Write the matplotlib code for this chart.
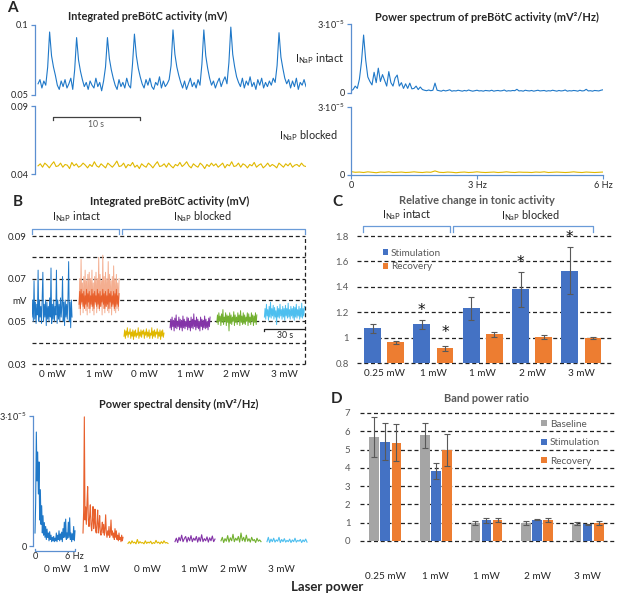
import numpy as np
import matplotlib
matplotlib.use('Agg')
import matplotlib.pyplot as plt
from matplotlib.lines import Line2D

plt.rcParams['font.family'] = ['Lato', 'DejaVu Sans']
plt.rcParams['mathtext.fontset'] = 'custom'
plt.rcParams['mathtext.rm'] = 'Lato'
plt.rcParams['mathtext.it'] = 'Lato:italic'
plt.rcParams['mathtext.bf'] = 'Lato:bold'

# ---------------- DATA ----------------
# Panel A: integrated preBotC activity (x1e-3 mV), ~30.8 s
a_trace_intact = [58,61,55,60,57, 70,95,78,70,64, 57,54,60,56,61,55,58,62,54,
    68,91,75,67,61, 56,59,54,60,57,55,62,56,59,53,60, 70,91,76,68,62,
    57,54,61,56,59,55,62,57,55, 72,93.5,78,69,63,
    58,55,61,57,62,56,54,59,57,63,55,60,56,58,61, 71,96.5,79,70,64,
    59,55,60,54,58,62,56,59,55,61,57, 72,96.5,78,69,62,
    57,60,55,59,62,56,60,63,58, 73,98.5,79,70,63,
    59,56,62,55,60,57,63,56,59,54,61,57,62,55,59,56,60,57,62,59,
    71,94.5,77,69,62, 58,61,55,60,56,62,54,59,57,61,56]
a_trace_blocked = [46,47.5,45,48,46.5,44.5,47,49,45.5,46,48,45,47,46.5,44,48.5,46,47.5,45,46,
    48,46.5,44.5,47,45.5,49,46,45,47.5,46,44.5,48,46.5,45,47,49.5,45.5,46,48,44.5,
    47,46,48.5,45,46.5,44,47.5,46,45,48,46.5,44.5,47,49,45.5,46,47.5,45,48,46,
    44.5,47,46,48.5,45.5,47,49,46,44.5,47.5,46,45,48,46.5,44,47,45.5,48,46,47.5,
    45,46.5,48,44.5,47,46,49,45.5,46,48,45,47.5,46.5,44.5,47,46,48.5,45,46.5,47.5,
    44.5,46,48,45.5,47,46,44.5,48,46.5,45,47.5,46,48,45,46.5,47,45.5,48,46,45.5]
a_duration_s = 30.8

# Panel A: power spectra (x1e-5 mV^2/Hz), 0-6 Hz
a_psd_intact = [0.10,0.15,0.30,0.20,0.60,1.36,2.52,1.43,0.70,0.50,
    0.35,0.90,0.45,1.08,0.50,0.80,0.55,0.30,0.93,0.45,
    0.30,0.65,0.78,0.30,0.45,0.20,0.40,0.20,0.43,0.18,
    0.20,0.30,0.15,0.26,0.15,0.12,0.10,0.13,0.10,0.12,
    0.43,0.12,
    0.10,0.08,0.12,0.09,0.11,0.14,0.08,0.10,0.09,0.12,
    0.10,0.08,0.11,0.09,0.13,0.10,0.08,0.10,0.12,0.09,
    0.10,0.08,0.11,0.10,0.09,0.12,0.08,0.10,0.11,0.09,
    0.10,0.13,0.08,0.10,0.09,0.11,0.10,0.16,0.09,0.10,
    0.08,0.12,0.10,0.09,0.11,0.08,0.10,0.12,0.09,0.10,
    0.11,0.08,0.10,0.09,0.12,0.10,0.08,0.11,0.09,0.10,
    0.13,0.08,0.10,0.09,0.11,0.10,0.08,0.12,0.09,0.10,
    0.16,0.09,0.10,0.08,0.11,0.10,0.09,0.12,0.14]
a_psd_blocked = [0.15,0.12,0.13,0.11,0.14,0.12,0.10,0.13,0.12,0.14,
    0.11,0.12,0.13,0.11,0.12,0.14,0.12,0.11,0.13,0.12,
    0.18,0.12,0.11,0.13,0.12,0.10,0.12,0.13,0.11,0.12,
    0.14,0.12,0.11,0.12,0.13,0.11,0.12,0.14,0.12,0.11,
    0.13,0.12,0.12,0.11,0.13,0.12,0.14,0.11,0.12,0.13,
    0.12,0.11,0.12,0.14,0.12,0.11,0.13,0.12,0.11,0.12,0.13]
a_max_hz = 6

# Panel B: integrated activity per condition (x1e-3 mV), 28.6 s each
b_labels = ['0 mW', '1 mW', '0 mW', '1 mW', '2 mW', '3 mW']
b_seg_s = 28.6
b_tr_0mw_intact = [52,60,50,69,51,59,49,58,53,74,50,60,52,57,49,61,73,50,58,52,
    60,48,59,51,57,50,61,52,75,49,58,51,60,50,57,53,74,49,60,51,
    58,50,61,52,57,71,50,59,48,60,52,58,51,61,78,50,59,47,60,52]
b_tr_1mw_intact_raw = [56,70,53,79,58,68,54,71,57,74,55,69,53,72,56,73,54,70,57,74,
    55,68,53,71,58,73,54,70,56,80,55,72,57,69,53,81,56,71,54,73,
    57,70,55,78,54,72,56,69,53,71,57,76,55,70,54,72,56,68,55,70]
b_tr_1mw_intact = [58,64,56,65,59,63,57,64,56,62,58,65,57,63,59,64,56,62,58,65,
    57,63,56,64,59,62,57,65,58,63,56,64,57,62,59,65,58,63,56,64,
    57,62,58,65,56,63,59,64,57,62,58,64,56,63,57,65,58,62,57,63]
b_tr_0mw_blocked = [43,46,42,45.5,43.5,47,42.5,45,44,46.5,42,45,43,46,41.5,45.5,43,46,42.5,44.5,
    43.5,47,42,45,43,46,42.5,45.5,44,46,42,45,43.5,46.5,42.5,45,43,46,42,44.5,
    43.5,47,42,45.5,43,46,42.5,45,44,46.5,42,45,43,46,41.5,45.5,43,46,42.5,44.5]
b_tr_1mw_blocked = [47,51,46,52,47.5,50.5,45.5,51.5,47,53,46.5,50,47.5,52,46,51,47,50.5,45.5,52.5,
    47,51,46.5,50,47.5,52,46,51.5,47,50,45.5,52,47,51,46.5,53.5,47.5,50.5,46,52,
    47,51,46.5,50,45.5,52,47.5,51,46,50.5,47,52.5,46.5,51,47,50,46,51.5,47.5,52]
b_tr_2mw_blocked = [49.5,53,48.5,54,50,52.5,48,53.5,49.5,55.5,48.5,52,50,54,48,53,49.5,52.5,45.5,54,
    49,53,48.5,52,50,54.5,48,53,49.5,52,48.5,54,50,53,48,55,49.5,52.5,48.5,54,
    49,53,48.5,52,50,54,48,53.5,49.5,52,48.5,54,50,53,48,52.5,49.5,54,48.5,53]
b_tr_3mw_blocked = [52,56,51,58,52.5,55.5,50.5,57,52,59,51.5,56,52.5,57.5,51,56.5,52,55,48.5,57,
    52,56,51.5,58,52.5,55.5,51,57,52,56,50.5,57.5,52.5,56,51.5,58.5,52,55.5,51,57,
    52.5,56,51.5,57,50.5,56.5,52,58,51.5,55.5,52.5,57,51,56,52,58.5,51.5,56,52.5,57]

# Panel B: power spectral density per condition (x1e-5), 0-6 Hz
b_psd_0mw_intact = [0.3,1.0,2.63,1.5,2.17,1.2,1.94,0.6,1.3,0.5,0.93,0.3,0.7,0.25,0.54,0.2,0.45,0.15,0.39,0.2,
    0.3,0.12,0.33,0.15,0.25,0.1,0.2,0.12,0.22,0.1,0.18,0.12,0.3,0.1,0.25,0.15,0.35,0.12,0.28,0.15,
    0.32,0.1,0.4,0.2,0.55,0.2,0.62,0.15,0.3,0.18,0.55,0.2,0.65,0.15,0.3,0.1,0.28,0.15,0.45,0.12,0.35]
b_psd_1mw_intact = [0.3,0.8,2.98,0.6,0.9,0.5,1.0,1.37,0.6,0.45,0.7,0.95,0.5,0.35,0.6,0.91,0.4,0.55,0.85,0.35,
    0.3,0.55,0.83,0.3,0.45,0.7,0.3,0.25,0.4,0.55,0.3,0.5,0.25,0.4,0.72,0.3,0.2,0.35,0.25,0.45,
    0.2,0.3,0.6,0.25,0.35,0.2,0.3,0.15,0.4,0.2,0.35,0.15,0.25,0.12,0.3,0.15,0.2,0.1,0.25,0.12,0.2]
b_psd_0mw_blocked = [0.06,0.1,0.05,0.12,0.07,0.09,0.05,0.15,0.06,0.1,0.07,0.08,0.05,0.12,0.06,0.09,
    0.07,0.11,0.05,0.08,0.06,0.13,0.07,0.09,0.05,0.1,0.06,0.12,0.07,0.08,0.06]
b_psd_1mw_blocked = [0.1,0.18,0.08,0.2,0.12,0.25,0.1,0.17,0.22,0.09,0.2,0.12,0.24,0.1,0.18,0.13,
    0.22,0.09,0.2,0.11,0.26,0.1,0.17,0.12,0.21,0.09,0.19,0.12,0.23,0.1,0.16]
b_psd_2mw_blocked = [0.12,0.2,0.08,0.17,0.11,0.24,0.09,0.19,0.12,0.27,0.1,0.18,0.13,0.22,0.09,0.3,
    0.12,0.2,0.1,0.25,0.11,0.17,0.09,0.2,0.12,0.15,0.08,0.18,0.11,0.14,0.1]
b_psd_3mw_blocked = [0.1,0.2,0.08,0.16,0.1,0.18,0.09,0.14,0.11,0.2,0.08,0.15,0.1,0.17,0.09,0.13,
    0.1,0.16,0.08,0.14,0.1,0.18,0.09,0.13,0.11,0.15,0.08,0.14,0.1,0.16,0.09]

# Panel C: relative change in tonic activity
c_labels = ['0.25 mW', '1 mW', '1 mW', '2 mW', '3 mW']
c_stim = [1.075, 1.105, 1.232, 1.38, 1.528]
c_stim_err = [0.035, 0.035, 0.09, 0.14, 0.187]
c_rec = [0.965, 0.915, 1.028, 1.005, 0.995]
c_rec_err = [0.012, 0.02, 0.02, 0.018, 0.008]
c_stim_sig = [False, True, False, True, True]
c_rec_sig = [False, True, False, False, False]

# Panel D: band power ratio
d_labels = ['0.25 mW', '1 mW', '1 mW', '2 mW', '3 mW']
d_base = [5.68, 5.77, 0.99, 1.0, 0.95]
d_base_err = [1.08, 0.66, 0.12, 0.1, 0.1]
d_stim = [5.44, 3.83, 1.14, 1.17, 0.92]
d_stim_err = [1.0, 0.46, 0.13, 0.03, 0.03]
d_rec = [5.38, 4.98, 1.14, 1.14, 0.99]
d_rec_err = [1.02, 0.88, 0.1, 0.1, 0.13]

# ---------------- STYLE ----------------
SPINE = '#5B8FD0'
BRK = '#6A9BD8'
TXT = '#262626'
GTX = '#595959'
C_BLUE = '#1F78C8'
C_YEL = '#E0B800'
C_ORA = '#E8602C'
C_ORA_L = '#F4AE90'
C_PUR = '#8434A8'
C_GRN = '#72B030'
C_CYA = '#4DBFEF'
STIM = '#4472C4'
REC = '#ED7D31'
BASE = '#A5A5A5'
ERRC = '#595959'
DASH = (0, (3.2, 2.2))
TITLE_FS = 7.9

W, H = 617, 598
fig = plt.figure(figsize=(W / 100, H / 100), dpi=100)


def add_ax(x0, y0, x1, y1):
    ax = fig.add_axes([x0 / W, 1 - y1 / H, (x1 - x0) / W, (y1 - y0) / H])
    ax.patch.set_alpha(0)
    return ax


def ftext(x, y, s, **kw):
    fig.text(x / W, 1 - y / H, s, **kw)


def fline(xs, ys, **kw):
    fig.add_artist(Line2D([x / W for x in xs], [1 - y / H for y in ys], **kw))


def only_left(ax, color=SPINE):
    for s in ['top', 'right', 'bottom']:
        ax.spines[s].set_visible(False)
    ax.spines['left'].set_color(color)
    ax.spines['left'].set_linewidth(0.9)
    ax.tick_params(axis='y', length=3, color=color, labelsize=6.6, labelcolor=TXT, pad=1.5, width=0.9)
    ax.set_xticks([])


def bracket(x0, x1, yt, yb):
    fline([x0, x0, x1, x1], [yb, yt, yt, yb], color=BRK, lw=0.9)


INAP = r'I$_{\mathregular{NaP}}$'
SUP5 = r'3$\cdot$10$^{\mathregular{-5}}$'

# ---------------- PANEL A ----------------
ftext(12, 8, 'A', fontsize=11, fontweight='bold', ha='center', va='center', color=TXT)
ftext(148, 16, 'Integrated preBötC activity (mV)', fontsize=TITLE_FS, fontweight='bold', ha='center', va='center', color=TXT)
ftext(487, 17, 'Power spectrum of preBötC activity (mV²/Hz)', fontsize=TITLE_FS, fontweight='bold', ha='center', va='center', color=TXT)

ax = add_ax(35, 25, 306, 95)
t = np.linspace(0, a_duration_s, len(a_trace_intact))
ax.plot(t, np.array(a_trace_intact) / 1000, color=C_BLUE, lw=0.8)
ax.set_xlim(-0.35, 30.8)
ax.set_ylim(0.05, 0.1)
ax.set_yticks([0.05, 0.1], ['0.05', '0.1'])
only_left(ax)

ax = add_ax(35, 106, 306, 174)
t = np.linspace(0, a_duration_s, len(a_trace_blocked))
ax.plot(t, np.array(a_trace_blocked) / 1000, color=C_YEL, lw=0.8)
ax.set_xlim(-0.35, 30.8)
ax.set_ylim(0.04, 0.09)
ax.set_yticks([0.04, 0.09], ['0.04', '0.09'])
only_left(ax)
ax.plot([1.7, 1.7, 11.7, 11.7], [0.080, 0.0818, 0.0818, 0.080], color='#404040', lw=0.9)
ax.text(6.7, 0.0765, '10 s', fontsize=6.2, color=GTX, ha='center', va='center')

ftext(295, 59, INAP + ' intact', fontsize=7.8, color=TXT, ha='left', va='center')
ftext(279, 136, INAP + ' blocked', fontsize=7.8, color=TXT, ha='left', va='center')

ax = add_ax(351, 24, 603, 93)
f = np.linspace(0, a_max_hz, len(a_psd_intact))
ax.plot(f, a_psd_intact, color=C_BLUE, lw=0.8)
ax.set_xlim(0, 6)
ax.set_ylim(0, 3)
ax.set_yticks([0, 3], ['0', SUP5])
only_left(ax)

ax = add_ax(351, 107, 603, 175)
f = np.linspace(0, a_max_hz, len(a_psd_blocked))
ax.plot(f, a_psd_blocked, color=C_YEL, lw=0.8)
ax.set_xlim(0, 6)
ax.set_ylim(0, 3)
ax.set_yticks([0, 3], ['0', SUP5])
only_left(ax)
ax.spines['bottom'].set_visible(True)
ax.spines['bottom'].set_color(SPINE)
ax.spines['bottom'].set_linewidth(0.9)
ax.set_xticks([0, 3, 6], ['0', '3 Hz', '6 Hz'])
ax.tick_params(axis='x', length=3, color=SPINE, labelsize=6.6, labelcolor=TXT, pad=1.5)

# ---------------- PANEL B ----------------
ftext(18, 202, 'B', fontsize=11, fontweight='bold', ha='center', va='center', color=TXT)
ftext(170, 201, 'Integrated preBötC activity (mV)', fontsize=TITLE_FS, fontweight='bold', ha='center', va='center', color=TXT)
bracket(32, 119, 229, 234)
bracket(122, 305, 229, 234)
ftext(77, 217, INAP + ' intact', fontsize=7.8, color=TXT, ha='center', va='center')
ftext(203, 217, INAP + ' blocked', fontsize=7.8, color=TXT, ha='center', va='center')

axb = add_ax(32, 236, 305, 364)
seg_starts = [0, 33.6, 65.7, 98.6, 132, 166]
traces = [b_tr_0mw_intact, b_tr_1mw_intact_raw, b_tr_0mw_blocked, b_tr_1mw_blocked, b_tr_2mw_blocked, b_tr_3mw_blocked]
colors = [C_BLUE, C_ORA_L, C_YEL, C_PUR, C_GRN, C_CYA]
for gy in [0.03, 0.04, 0.05, 0.06, 0.07, 0.08, 0.09]:
    axb.axhline(gy, color='#222222', ls=DASH, lw=0.9, clip_on=False, zorder=1)
axb.plot([195, 195], [0.03, 0.09], color='#222222', ls=DASH, lw=0.9, clip_on=False, zorder=1)
for s0, tr, c in zip(seg_starts, traces, colors):
    tt = s0 + np.linspace(0, b_seg_s, len(tr))
    axb.plot(tt, np.array(tr) / 1000, color=c, lw=0.7, zorder=3)
tt = seg_starts[1] + np.linspace(0, b_seg_s, len(b_tr_1mw_intact))
axb.plot(tt, np.array(b_tr_1mw_intact) / 1000, color=C_ORA, lw=0.7, zorder=4)
axb.set_xlim(0, 195)
axb.set_ylim(0.03, 0.09)
for s in axb.spines.values():
    s.set_visible(False)
axb.set_yticks([0.03, 0.05, 0.06, 0.07, 0.09], ['0.03', '0.05', 'mV', '0.07', '0.09'])
axb.set_xticks([s0 + b_seg_s / 2 for s0 in seg_starts], b_labels)
axb.tick_params(axis='y', length=0, labelsize=6.9, labelcolor=TXT, pad=4)
axb.tick_params(axis='x', length=0, labelsize=7.2, labelcolor=TXT, pad=4)
axb.plot([166, 166, 195], [0.0455, 0.0465, 0.0465], color='#222222', lw=0.9, zorder=5)
axb.text(180.5, 0.0432, '30 s', fontsize=6.3, color=TXT, ha='center', va='center')

# spectra
ftext(179, 404, 'Power spectral density (mV²/Hz)', fontsize=TITLE_FS, fontweight='bold', ha='center', va='center', color=TXT)
axs = add_ax(33, 416, 310, 546)
spec = [b_psd_0mw_intact, b_psd_1mw_intact, b_psd_0mw_blocked, b_psd_1mw_blocked, b_psd_2mw_blocked, b_psd_3mw_blocked]
spec_x0 = [35, 83, 128, 175, 221, 267]
spec_w = 40
spec_colors = [C_BLUE, C_ORA, C_YEL, C_PUR, C_GRN, C_CYA]
for x0, sp, c in zip(spec_x0, spec, spec_colors):
    ff = np.linspace(0, 6, len(sp))
    axs.plot(x0 + ff / 6 * spec_w, sp, color=c, lw=0.8)
axs.set_xlim(33, 310)
axs.set_ylim(0, 3)
axs.set_yticks([0, 3], ['0', SUP5])
only_left(axs)
axs.plot([35, 35, 75, 75], [-0.06, -0.12, -0.12, -0.06], color=SPINE, lw=0.9, clip_on=False)
axs.text(35, -0.25, '0', fontsize=6.6, color=TXT, ha='center', va='center')
axs.text(74, -0.25, '6 Hz', fontsize=6.6, color=TXT, ha='center', va='center')
spec_lab_x = [57, 96, 147, 194, 234, 281]
for xl, lab in zip(spec_lab_x, b_labels):
    axs.text(xl, -0.55, lab, fontsize=7.2, color=TXT, ha='center', va='center', clip_on=False)

ftext(327, 587, 'Laser power', fontsize=9.5, fontweight='bold', ha='center', va='center', color=TXT)

# ---------------- PANEL C ----------------
ftext(337, 202, 'C', fontsize=11, fontweight='bold', ha='center', va='center', color=TXT)
ftext(477, 200, 'Relative change in tonic activity', fontsize=TITLE_FS, fontweight='bold', ha='center', va='center', color=GTX)
bracket(363, 450, 226, 232)
bracket(453, 593, 226, 232)
ftext(407, 215, INAP + ' intact', fontsize=7.8, color=TXT, ha='center', va='center')
ftext(531, 216, INAP + ' blocked', fontsize=7.8, color=TXT, ha='center', va='center')

axc = add_ax(357, 236, 612, 363)
xc = np.arange(len(c_labels))
for gy in [0.8, 1.0, 1.2, 1.4, 1.6, 1.8]:
    axc.axhline(gy, color='#222222', ls=DASH, lw=0.9, clip_on=False, zorder=1)
bw = 0.34
axc.bar(xc - 0.235, np.array(c_stim) - 0.8, bw, bottom=0.8, color=STIM, zorder=2, label='Stimulation')
axc.bar(xc + 0.235, np.array(c_rec) - 0.8, bw, bottom=0.8, color=REC, zorder=2, label='Recovery')
axc.errorbar(xc - 0.235, c_stim, yerr=c_stim_err, fmt='none', ecolor=ERRC, elinewidth=0.8, capsize=2, capthick=0.8, zorder=3)
axc.errorbar(xc + 0.235, c_rec, yerr=c_rec_err, fmt='none', ecolor=ERRC, elinewidth=0.8, capsize=2, capthick=0.8, zorder=3)
for i in range(len(c_labels)):
    if c_stim_sig[i]:
        axc.text(xc[i] - 0.235, c_stim[i] + c_stim_err[i] + 0.015, '*', fontsize=11, ha='center', va='bottom',
                 color='#111111', family='DejaVu Sans')
    if c_rec_sig[i]:
        axc.text(xc[i] + 0.235, c_rec[i] + c_rec_err[i] + 0.045, '*', fontsize=11, ha='center', va='bottom',
                 color='#111111', family='DejaVu Sans')
axc.set_xlim(-0.55, 4.62)
axc.set_ylim(0.8, 1.8)
for s in axc.spines.values():
    s.set_visible(False)
axc.set_yticks([0.8, 1.0, 1.2, 1.4, 1.6, 1.8], ['0.8', '1', '1.2', '1.4', '1.6', '1.8'])
axc.set_xticks(xc, c_labels)
axc.tick_params(axis='y', length=0, labelsize=6.9, labelcolor=GTX, pad=6)
axc.tick_params(axis='x', length=0, labelsize=7.2, labelcolor=TXT, pad=4)
axc.legend(loc='upper left', bbox_to_anchor=(0.085, 0.93), frameon=False, fontsize=7.2,
           handlelength=0.55, handleheight=0.55, handletextpad=0.25, labelspacing=0.45,
           borderaxespad=0, labelcolor=GTX)

# ---------------- PANEL D ----------------
ftext(337, 399, 'D', fontsize=11, fontweight='bold', ha='center', va='center', color=TXT)
ftext(486, 399, 'Band power ratio', fontsize=TITLE_FS, fontweight='bold', ha='center', va='center', color=GTX)
axd = add_ax(360, 413, 617, 541)
xd = np.arange(len(d_labels))
for gy in range(0, 8):
    axd.axhline(gy, color='#222222', ls=DASH, lw=0.9, clip_on=False, zorder=1)
dw = 0.19
for off, vals, errs, col, lab in [(-0.22, d_base, d_base_err, BASE, 'Baseline'),
                                  (0.0, d_stim, d_stim_err, STIM, 'Stimulation'),
                                  (0.22, d_rec, d_rec_err, REC, 'Recovery')]:
    axd.bar(xd + off, vals, dw, color=col, zorder=2, label=lab)
    axd.errorbar(xd + off, vals, yerr=errs, fmt='none', ecolor=ERRC, elinewidth=0.8, capsize=2, capthick=0.8, zorder=3)
axd.set_xlim(-0.5, 4.58)
axd.set_ylim(0, 7)
for s in axd.spines.values():
    s.set_visible(False)
axd.set_yticks(range(0, 8))
axd.set_xticks(xd, d_labels)
axd.tick_params(axis='y', length=0, labelsize=6.9, labelcolor=GTX, pad=7)
axd.tick_params(axis='x', length=0, labelsize=7.2, labelcolor=TXT, pad=22)
axd.legend(loc='upper left', bbox_to_anchor=(0.69, 0.98), frameon=False, fontsize=7.2,
           handlelength=0.55, handleheight=0.55, handletextpad=0.3, labelspacing=0.95,
           borderaxespad=0, labelcolor=GTX)

fig.savefig('out.png', dpi=100)
